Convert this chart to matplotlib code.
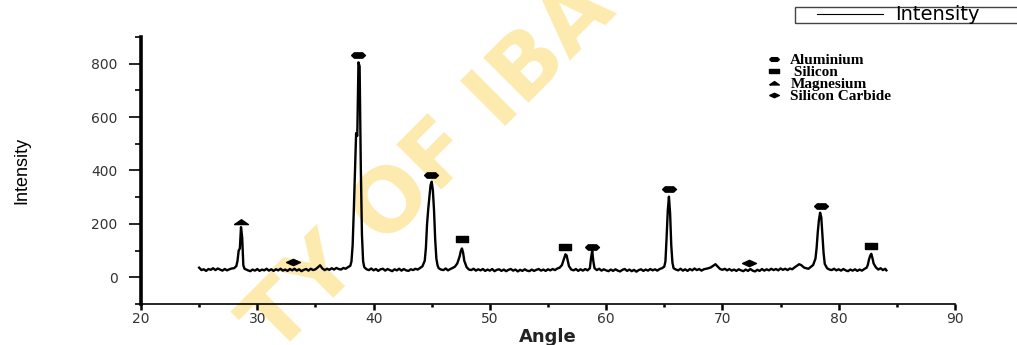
import numpy as np
import matplotlib
matplotlib.use("Agg")
import matplotlib.pyplot as plt
from matplotlib.path import Path
from matplotlib.lines import Line2D
from matplotlib.patches import Rectangle

# XRD pattern (angle in degrees, intensity in counts)
angle = [
    25.0, 25.2, 25.4, 25.6, 25.8, 26.0, 26.2, 26.4, 26.6, 26.8, 27.0, 27.2, 27.4, 27.6, 27.8,
    28.0, 28.2, 28.3, 28.4, 28.5, 28.6, 28.7, 28.8, 28.9,
    29.0, 29.2, 29.4, 29.6, 29.8, 30.0, 30.2, 30.4, 30.6, 30.8, 31.0, 31.2, 31.4, 31.6, 31.8,
    32.0, 32.2, 32.4, 32.6, 32.8, 33.0, 33.2, 33.4, 33.6, 33.8, 34.0, 34.2, 34.4, 34.6, 34.8, 35.0,
    35.2, 35.4, 35.6, 35.8, 36.0, 36.2, 36.4, 36.6, 36.8, 37.0, 37.2, 37.4, 37.6, 37.8, 38.0,
    38.1, 38.2, 38.3, 38.4, 38.5, 38.6, 38.7, 38.8, 38.9, 39.0, 39.1, 39.2, 39.4,
    39.6, 39.8, 40.0, 40.2, 40.4, 40.6, 40.8, 41.0, 41.2, 41.4, 41.6, 41.8, 42.0, 42.2, 42.4,
    42.6, 42.8, 43.0, 43.2, 43.4, 43.6, 43.8, 44.0, 44.2,
    44.4, 44.5, 44.6, 44.7, 44.8, 44.9, 45.0, 45.1, 45.2, 45.3, 45.4, 45.5, 45.6, 45.8,
    46.0, 46.2, 46.4, 46.6, 46.8, 47.0, 47.2,
    47.4, 47.5, 47.6, 47.7, 47.8, 48.0, 48.2,
    48.4, 48.6, 48.8, 49.0, 49.2, 49.4, 49.6, 49.8, 50.0, 50.2, 50.4, 50.6, 50.8, 51.0, 51.2,
    51.4, 51.6, 51.8, 52.0, 52.2, 52.4, 52.6, 52.8, 53.0, 53.2, 53.4, 53.6, 53.8, 54.0, 54.2,
    54.4, 54.6, 54.8, 55.0, 55.2, 55.4, 55.6, 55.8, 56.0, 56.2,
    56.4, 56.5, 56.6, 56.7, 56.8, 57.0, 57.2, 57.4, 57.6, 57.8, 58.0, 58.2, 58.4, 58.6,
    58.7, 58.8, 58.9, 59.0, 59.2, 59.4, 59.6, 59.8, 60.0, 60.2, 60.4, 60.6, 60.8, 61.0, 61.2,
    61.4, 61.6, 61.8, 62.0, 62.2, 62.4, 62.6, 62.8, 63.0, 63.2, 63.4, 63.6, 63.8, 64.0, 64.2,
    64.4, 64.6, 64.8,
    65.0, 65.1, 65.2, 65.3, 65.4, 65.5, 65.6, 65.7, 65.8, 66.0,
    66.2, 66.4, 66.6, 66.8, 67.0, 67.2, 67.4, 67.6, 67.8, 68.0, 68.2, 68.4, 68.6, 68.8, 69.0,
    69.2, 69.4, 69.6, 69.8, 70.0, 70.2, 70.4, 70.6, 70.8, 71.0, 71.2, 71.4, 71.6, 71.8, 72.0,
    72.2, 72.4, 72.6, 72.8, 73.0, 73.2, 73.4, 73.6, 73.8, 74.0, 74.2, 74.4, 74.6, 74.8, 75.0,
    75.2, 75.4, 75.6, 75.8, 76.0, 76.2, 76.4, 76.6, 76.8, 77.0, 77.2, 77.4, 77.6, 77.8, 78.0,
    78.1, 78.2, 78.3, 78.4, 78.5, 78.6, 78.7, 78.8, 79.0, 79.2,
    79.4, 79.6, 79.8, 80.0, 80.2, 80.4, 80.6, 80.8, 81.0, 81.2, 81.4, 81.6, 81.8, 82.0, 82.2,
    82.4, 82.5, 82.6, 82.7, 82.8, 82.9, 83.0, 83.2, 83.4, 83.6, 83.8, 84.0, 84.1,
]
intensity = [
    36, 27, 30, 24, 31, 28, 34, 27, 33, 29, 25, 31, 26, 30, 33,
    34, 42, 62, 100, 108, 188, 150, 45, 32,
    30, 26, 23, 29, 25, 31, 24, 29, 26, 32, 25, 30, 24, 30, 26,
    32, 25, 29, 24, 31, 26, 32, 25, 30, 23, 28, 31, 25, 32, 27, 30,
    37, 45, 33, 27, 32, 28, 34, 29, 35, 31, 29, 35, 32, 38, 43,
    60, 120, 250, 400, 540, 530, 805, 790, 420, 160, 60, 38, 30,
    27, 33, 26, 31, 24, 30, 32, 25, 31, 27, 23, 30, 26, 32, 25,
    31, 26, 24, 30, 27, 32, 29, 35, 41,
    62, 110, 200, 255, 300, 345, 358, 325, 250, 140, 70, 45, 34, 29,
    27, 33, 26, 31, 35, 40, 52,
    78, 98, 108, 92, 62, 38, 29,
    27, 32, 25, 30, 26, 31, 24, 29, 25, 31, 23, 28, 30, 24, 29,
    23, 28, 31, 25, 29, 22, 28, 24, 30, 25, 23, 29, 24, 28, 31,
    25, 29, 24, 30, 26, 31, 27, 33, 36, 46,
    72, 86, 82, 62, 42, 29, 26, 31, 24, 30, 25, 31, 26, 34,
    72, 100, 60, 34, 27, 32, 25, 30, 26, 23, 29, 24, 30, 25, 22,
    28, 31, 24, 29, 23, 28, 21, 27, 30, 24, 29, 25, 31, 26, 30,
    25, 31, 34,
    40, 60, 150, 250, 302, 240, 120, 55, 34, 29,
    26, 32, 25, 30, 24, 31, 26, 33, 27, 31, 25, 30, 32, 34, 37,
    43, 49, 40, 31, 28, 32, 26, 31, 25, 29, 24, 30, 26, 23, 29,
    24, 31, 25, 22, 28, 24, 31, 25, 30, 26, 32, 27, 31, 26, 33,
    28, 32, 27, 33, 30, 37, 43, 49, 45, 37, 34, 32, 39, 46, 70,
    110, 170, 215, 242, 225, 160, 90, 50, 34, 29,
    27, 32, 26, 30, 25, 31, 26, 23, 29, 25, 30, 24, 29, 25, 31,
    36, 46, 66, 80, 88, 72, 52, 37, 29, 34, 27, 32, 26,
]

# phase markers placed above the peaks
al_x = [38.7, 44.95, 58.8, 65.4, 78.5]
al_y = [833, 383, 115, 330, 268]
si_x = [47.6, 56.5, 82.75]
si_y = [145, 112, 118]
mg_x = [28.6]
mg_y = [207]
sic_x = [33.1, 72.3]
sic_y = [58, 55]

phase_names = ["Aluminium", " Silicon", "Magnesium", "Silicon Carbide"]

# flat marker shapes like the ones in the figure
m_al = Path([(-1, 0), (-0.6, 0.38), (0.6, 0.38), (1, 0), (0.6, -0.38), (-0.6, -0.38), (-1, 0)])
m_si = Path([(-1, -0.5), (1, -0.5), (1, 0.5), (-1, 0.5), (-1, -0.5)])
m_mg = Path([(-1, -0.3), (1, -0.3), (0, 0.4), (-1, -0.3)])
m_sic = Path([(-1, 0), (0, 0.45), (1, 0), (0, -0.45), (-1, 0)])

W, H = 1017, 345
fig = plt.figure(figsize=(W / 100, H / 100), dpi=100)
ax = fig.add_axes([141 / W, 1 - 304 / H, (955 - 141) / W, (304 - 37) / H])
ax.set_zorder(1)
ax.patch.set_alpha(0)

# watermark behind the data
fig.text(430 / W, 1 - 168 / H, "TY OF IBA", fontsize=63, fontweight="bold",
         color="#FDEAAE", rotation=45, ha="center", va="center",
         rotation_mode="anchor", zorder=0)

ax.plot(angle, intensity, color="black", lw=1.7, zorder=3)

ax.plot(al_x, al_y, ls="none", marker=m_al, ms=10, color="black", zorder=4)
ax.plot(si_x, si_y, ls="none", marker=m_si, ms=9, color="black", zorder=4)
ax.plot(mg_x, mg_y, ls="none", marker=m_mg, ms=10, color="black", zorder=4)
ax.plot(sic_x, sic_y, ls="none", marker=m_sic, ms=10, color="black", zorder=4)

ax.set_xlim(20, 90)
ax.set_ylim(-100, 900)
ax.set_xticks(range(20, 91, 10))
ax.set_xticks(range(25, 90, 10), minor=True)
ax.set_yticks(range(0, 801, 200))
ax.set_yticks(range(-100, 901, 200), minor=True)

for s in ["top", "right"]:
    ax.spines[s].set_visible(False)
ax.spines["left"].set_linewidth(2.6)
ax.spines["bottom"].set_linewidth(1.2)

ax.tick_params(axis="y", which="major", direction="out", length=9, width=1.2,
               pad=8, labelsize=10, labelcolor="#333333")
ax.tick_params(axis="y", which="minor", direction="out", length=4, width=1.2)
ax.tick_params(axis="x", which="major", direction="out", length=4, width=1.8,
               pad=2, labelsize=10, labelcolor="#333333")
ax.tick_params(axis="x", which="minor", direction="out", length=2, width=1.8)

ax.set_xlabel("Angle", fontsize=13, fontweight="bold", color="#222222", labelpad=1)
ax.set_ylabel("Intensity", fontsize=13, family=["Liberation Sans Narrow", "Liberation Sans"],
              labelpad=44)

# phase key
handles = [
    Line2D([], [], ls="none", marker=m_al, ms=7, color="black"),
    Line2D([], [], ls="none", marker=m_si, ms=7, color="black"),
    Line2D([], [], ls="none", marker=m_mg, ms=7, color="black"),
    Line2D([], [], ls="none", marker=m_sic, ms=7, color="black"),
]
ax.legend(handles, phase_names, loc="upper left", bbox_to_anchor=(759 / W, 1 - 46 / H),
          bbox_transform=fig.transFigure, frameon=False, borderpad=0,
          handlelength=1.0, handletextpad=0.55, labelspacing=-0.12,
          prop={"family": "Liberation Serif", "weight": "bold", "size": 11})

# series legend at the top right, its box runs off the right edge
fig.patches.append(Rectangle((795 / W, 1 - 23 / H), 240 / W, 16 / H,
                             transform=fig.transFigure, fill=False,
                             edgecolor="#444444", lw=1.0))
fig.legend([Line2D([], [], color="black", lw=0.8)], ["Intensity"], loc="center left",
           bbox_to_anchor=(817 / W, 1 - 15 / H), frameon=False, borderpad=0,
           handlelength=3.4, handletextpad=0.6, fontsize=14, borderaxespad=0)

fig.savefig("out.png", dpi=100)
